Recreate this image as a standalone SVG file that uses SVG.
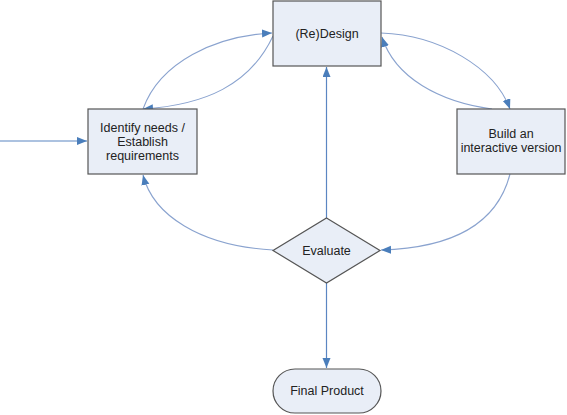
<svg xmlns="http://www.w3.org/2000/svg" width="567" height="415" viewBox="0 0 567 415">
<defs>
<marker id="ah" markerUnits="userSpaceOnUse" markerWidth="11" markerHeight="9" refX="10" refY="4" orient="auto">
<path d="M0,0 L10,4 L0,8 z" fill="#4a7ebb"/>
</marker>
<style>
.box{fill:#e9eef7;stroke:#555;stroke-width:1.2}
.lbl{font-family:"Liberation Sans",Arial,sans-serif;font-size:12.5px;fill:#222;text-anchor:middle}
.c{fill:none;stroke:#8aa3cf;stroke-width:1.1;marker-end:url(#ah)}
.s{fill:none;stroke:#5b86c2;stroke-width:1.2;marker-end:url(#ah)}
</style>
</defs>
<rect width="567" height="415" fill="#fff"/>
<g id="connectors">
<path class="s" d="M0,141 L87,141"/>
<path class="c" d="M143,109 C160,62 215,36 272,33"/>
<path class="c" d="M273,36 C250,85 205,105 143,109"/>
<path class="c" d="M381,33 C440,35 495,68 510,109"/>
<path class="c" d="M492,109 C440,102 395,78 382,37"/>
<path class="c" d="M510,174 C497,225 452,248 381,250"/>
<path class="c" d="M273,250 C200,246 153,215 143,175"/>
<path class="s" d="M326.5,218 L326.5,67"/>
<path class="s" d="M326.5,283 L326.5,368"/>
</g>
<g id="identify">
<rect class="box" x="88" y="109" width="109" height="65"/>
<text class="lbl" x="142.5" y="132">Identify needs /</text>
<text class="lbl" x="142.5" y="146">Establish</text>
<text class="lbl" x="142.5" y="160">requirements</text>
</g>
<g id="design">
<rect class="box" x="273" y="1" width="108" height="65"/>
<text class="lbl" x="327" y="38">(Re)Design</text>
</g>
<g id="build">
<rect class="box" x="457" y="109" width="108" height="65"/>
<text class="lbl" x="511" y="138">Build an</text>
<text class="lbl" x="511" y="152">interactive version</text>
</g>
<g id="evaluate">
<path class="box" d="M326.5,218 L380,250.5 L326.5,283 L273,250.5 z"/>
<text class="lbl" x="326.5" y="255">Evaluate</text>
</g>
<g id="final">
<rect class="box" x="273" y="369" width="108" height="44" rx="22" ry="22"/>
<text class="lbl" x="327" y="395">Final Product</text>
</g>
</svg>
